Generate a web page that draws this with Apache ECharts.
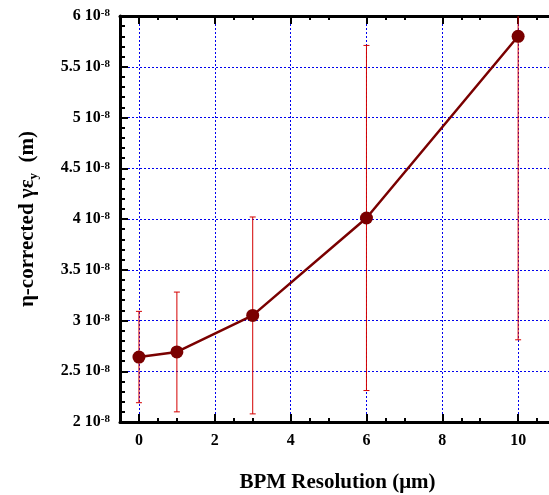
<!DOCTYPE html>
<html>
<head>
<meta charset="utf-8">
<script src="https://cdn.jsdelivr.net/npm/echarts@6/dist/echarts.min.js"></script>
<style>
  html, body { margin: 0; padding: 0; background: #fff; }
  #chart { width: 549px; height: 495px; }
</style>
</head>
<body>
<div id="chart"></div>
<script>
// BPM resolution (um) vs eta-corrected vertical emittance, values in units of 1e-8 m
const bpmRes = [0, 1, 3, 6, 10];
const emitY = [2.64, 2.69, 3.05, 4.01, 5.80];
const emitErr = [0.45, 0.59, 0.97, 1.70, 2.99];
const xTickValues = [0, 2, 4, 6, 8, 10];

const serif = 'Liberation Serif';
const gridBlue = '#0000ee';
const lineRed = '#7a0000';
const barRed = '#d40000';

const chart = echarts.init(document.getElementById('chart'));

const points = bpmRes.map((x, i) => [x, emitY[i]]);
const errBars = bpmRes.map((x, i) => [x, emitY[i] - emitErr[i], emitY[i] + emitErr[i]]);

const xCommon = {
  type: 'value',
  min: -0.5,
  max: 11.5,
  interval: 2,
  axisLine: { show: true, onZero: false, lineStyle: { color: '#000', width: 3 } },
  axisTick: { show: true, inside: true, length: 8, customValues: xTickValues, lineStyle: { color: '#000', width: 2 } },
  minorTick: { show: true, splitNumber: 4, length: 4, lineStyle: { color: '#000', width: 2 } }
};

const option = {
  animation: false,
  backgroundColor: '#fff',
  grid: { left: 120, top: 16, width: 455, height: 406, containLabel: false, outerBoundsMode: 'none' },
  xAxis: [
    Object.assign({}, xCommon, {
      position: 'bottom',
      name: 'BPM Resolution (μm)',
      nameLocation: 'middle',
      nameGap: 50,
      nameTextStyle: { fontFamily: serif, fontWeight: 'bold', fontSize: 21, color: '#000', padding: [0, 20, 0, 0] },
      axisLabel: {
        customValues: xTickValues,
        margin: 11,
        fontFamily: serif, fontWeight: 'bold', fontSize: 16, color: '#000'
      },
      splitLine: { show: true, lineStyle: { color: gridBlue, type: [2, 2], width: 1 } }
    }),
    Object.assign({}, xCommon, {
      position: 'top',
      axisLabel: { show: false },
      splitLine: { show: false }
    })
  ],
  yAxis: {
    type: 'value',
    min: 2,
    max: 6,
    interval: 0.5,
    name: '{a|η-corrected γε}{s|y}{a|  (m)}',
    nameLocation: 'middle',
    nameRotate: 90,
    nameGap: 80,
    nameTextStyle: {
      rich: {
        a: { fontFamily: serif, fontWeight: 'bold', fontSize: 21, color: '#000' },
        s: { fontFamily: serif, fontWeight: 'bold', fontSize: 13, color: '#000', verticalAlign: 'bottom', padding: [12, 0, 0, 0] }
      }
    },
    axisLine: { show: true, onZero: false, lineStyle: { color: '#000', width: 3 } },
    axisTick: { show: true, inside: true, length: 8, lineStyle: { color: '#000', width: 2 } },
    minorTick: { show: true, splitNumber: 5, length: 5, lineStyle: { color: '#000', width: 2 } },
    axisLabel: {
      margin: 10,
      formatter: v => '{n|' + v + ' 10}{e|-8}',
      rich: {
        n: { fontFamily: serif, fontWeight: 'bold', fontSize: 16, color: '#000' },
        e: { fontFamily: serif, fontWeight: 'bold', fontSize: 11, color: '#000', verticalAlign: 'top' }
      }
    },
    splitLine: { show: true, lineStyle: { color: gridBlue, type: [2, 2], width: 1 } }
  },
  series: [
    {
      name: 'errors',
      type: 'custom',
      xAxisIndex: 0,
      clip: true,
      data: errBars,
      encode: { x: 0, y: [1, 2] },
      renderItem: function (params, api) {
        const x = api.value(0);
        const lo = api.coord([x, api.value(1)]);
        const hi = api.coord([x, api.value(2)]);
        const cap = 3;
        const style = { stroke: barRed, lineWidth: 1 };
        return {
          type: 'group',
          children: [
            { type: 'line', shape: { x1: hi[0], y1: hi[1], x2: lo[0], y2: lo[1] }, style: style },
            { type: 'line', shape: { x1: hi[0] - cap, y1: hi[1], x2: hi[0] + cap, y2: hi[1] }, style: style },
            { type: 'line', shape: { x1: lo[0] - cap, y1: lo[1], x2: lo[0] + cap, y2: lo[1] }, style: style }
          ]
        };
      }
    },
    {
      name: 'emittance',
      type: 'line',
      xAxisIndex: 0,
      data: points,
      symbol: 'circle',
      symbolSize: 13,
      itemStyle: { color: lineRed },
      lineStyle: { color: lineRed, width: 2.5 },
      z: 3
    }
  ]
};

chart.setOption(option);
</script>
</body>
</html>
